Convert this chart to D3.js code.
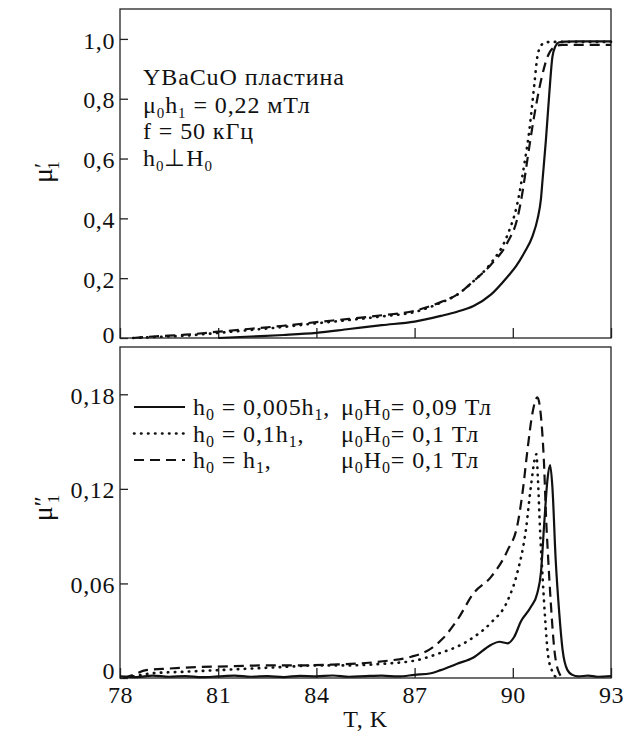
<!DOCTYPE html>
<html>
<head>
<meta charset="utf-8">
<script src="https://cdn.jsdelivr.net/npm/d3@7"></script>
<style>
  body { margin: 0; background: #fff; }
</style>
</head>
<body>
<div id="chart"></div>
<script>
// ticks
const xTicks = [78, 81, 84, 87, 90, 93];
const yTicksRe = [0, 0.2, 0.4, 0.6, 0.8, 1.0];
const yLabelsRe = ["0", "0,2", "0,4", "0,6", "0,8", "1,0"];
const yTicksIm = [0, 0.06, 0.12, 0.18];
const yLabelsIm = ["0", "0,06", "0,12", "0,18"];

// mu' (top panel)
const reSolidT = [81.0, 82, 83, 84, 85, 86, 87, 87.8, 88.3, 88.8, 89.33, 89.84, 90.1, 90.35, 90.6, 90.76, 90.86, 90.91, 91.01, 91.11, 91.21, 91.3, 91.4, 91.6, 92, 93];
const reSolidV = [0, 0.005, 0.01, 0.017, 0.03, 0.043, 0.055, 0.074, 0.088, 0.107, 0.145, 0.205, 0.24, 0.285, 0.34, 0.40, 0.465, 0.53, 0.66, 0.81, 0.94, 0.975, 0.988, 0.991, 0.992, 0.992];
const reDotT = [78.4, 79, 80, 81, 82, 83, 84, 85, 86, 87, 87.8, 88.3, 88.8, 89.33, 89.84, 90.14, 90.35, 90.5, 90.65, 90.75, 90.85, 90.96, 91.2, 93];
const reDotV = [0, 0.003, 0.008, 0.017, 0.027, 0.037, 0.049, 0.06, 0.072, 0.087, 0.118, 0.145, 0.19, 0.25, 0.345, 0.45, 0.58, 0.69, 0.84, 0.94, 0.975, 0.987, 0.99, 0.99];
const reDashT = [78.4, 79, 80, 81, 82, 83, 84, 85, 86, 87, 87.8, 88.3, 88.8, 89.33, 89.84, 90.14, 90.3, 90.45, 90.65, 90.86, 91.06, 91.26, 91.5, 93];
const reDashV = [0, 0.005, 0.011, 0.021, 0.031, 0.041, 0.053, 0.064, 0.076, 0.091, 0.12, 0.145, 0.19, 0.245, 0.32, 0.40, 0.49, 0.60, 0.74, 0.86, 0.94, 0.972, 0.98, 0.98];

// mu'' (bottom panel)
const imSolidT = [78, 78.5, 79, 79.5, 80, 80.5, 81, 81.5, 82, 82.5, 83, 83.5, 84, 84.5, 85, 85.5, 86, 86.5, 87, 87.5, 87.8, 88.3, 88.8, 89.33, 89.59, 89.84, 90.04, 90.25, 90.55, 90.75, 90.86, 90.96, 91.06, 91.14, 91.21, 91.31, 91.42, 91.52, 91.67, 91.82, 92, 92.3, 92.6, 93];
const imSolidV = [0.001, 0.0005, 0.0015, 0.0008, 0.0012, 0.0005, 0.001, 0.0015, 0.0008, 0.0012, 0.0006, 0.0014, 0.001, 0.0016, 0.0008, 0.0012, 0.0015, 0.001, 0.002, 0.003, 0.005, 0.009, 0.013, 0.021, 0.023, 0.022, 0.026, 0.036, 0.045, 0.054, 0.067, 0.098, 0.126, 0.135, 0.121, 0.075, 0.041, 0.018, 0.005, 0.002, 0.001, 0.0015, 0.0008, 0.0012];
const imDotT = [78.4, 79, 80, 81, 82, 83, 84, 85, 86, 87, 87.8, 88.31, 88.81, 89.33, 89.84, 90.14, 90.4, 90.55, 90.72, 90.77, 90.83, 90.91, 90.99, 91.08, 91.21, 91.35];
const imDotV = [0.001, 0.003, 0.004, 0.005, 0.006, 0.007, 0.008, 0.008, 0.009, 0.011, 0.016, 0.020, 0.026, 0.035, 0.049, 0.067, 0.094, 0.121, 0.142, 0.125, 0.095, 0.064, 0.037, 0.014, 0.004, 0];
const imDashT = [78.1, 78.4, 78.8, 79.5, 80.5, 81.5, 82.5, 83.5, 84.5, 85.5, 86.2, 86.9, 87.45, 87.86, 88.31, 88.81, 89.33, 89.84, 90.14, 90.3, 90.45, 90.6, 90.75, 90.85, 90.96, 91.01, 91.08, 91.16, 91.26, 91.42, 91.55];
const imDashV = [0, 0.002, 0.005, 0.006, 0.007, 0.0075, 0.008, 0.008, 0.0085, 0.0095, 0.011, 0.0135, 0.018, 0.025, 0.037, 0.054, 0.064, 0.081, 0.097, 0.118, 0.145, 0.168, 0.178, 0.168, 0.133, 0.105, 0.076, 0.048, 0.020, 0.003, 0];

// texts
const noteLines = [
  [["YBaCuO пластина", 0]],
  [["μ", 0], ["0", 1], ["h", 0], ["1", 1], [" = 0,22 мТл", 0]],
  [["f = 50 кГц", 0]],
  [["h", 0], ["0", 1], ["⊥H", 0], ["0", 1]]
];
const legendLeft = [
  [["h", 0], ["0", 1], [" = 0,005h", 0], ["1", 1], [",", 0]],
  [["h", 0], ["0", 1], [" = 0,1h", 0], ["1", 1], [",", 0]],
  [["h", 0], ["0", 1], [" = h", 0], ["1", 1], [",", 0]]
];
const legendRight = [
  [["μ", 0], ["0", 1], ["H", 0], ["0", 1], ["= 0,09 Тл", 0]],
  [["μ", 0], ["0", 1], ["H", 0], ["0", 1], ["= 0,1 Тл", 0]],
  [["μ", 0], ["0", 1], ["H", 0], ["0", 1], ["= 0,1 Тл", 0]]
];

const FONT = '"Liberation Serif"';
const setup = { width: 636, height: 740, left: 120, right: 611, fontSize: 24 };
const topPanel = { top: 9, bottom: 338 };
const botPanel = { top: 347, bottom: 678 };

const styles = {
  solid: { dash: null, width: 2.2, cap: "butt" },
  dot: { dash: "0.5,6.5", width: 2.6, cap: "round" },
  dash: { dash: "10,6", width: 2.2, cap: "butt" }
};

const svg = d3.select("#chart").append("svg")
  .attr("width", setup.width)
  .attr("height", setup.height);

const x = d3.scaleLinear().domain([78, 93]).range([setup.left, setup.right]);
const yRe = d3.scaleLinear().domain([0, 1.1]).range([topPanel.bottom, topPanel.top]);
const yIm = d3.scaleLinear().domain([0, 0.21]).range([botPanel.bottom, botPanel.top]);

const addText = (px, py, size, spacing) => svg.append("text")
  .attr("x", px).attr("y", py)
  .attr("font-size", size)
  .attr("fill", "#111")
  .attr("letter-spacing", spacing || 0)
  .style("font-family", FONT);

// text with subscripts
const richText = (sel, parts, subSize) => {
  parts.forEach((p, i) => {
    const t = sel.append("tspan").text(p[0]);
    const prevSub = i > 0 && parts[i - 1][1];
    if (p[1]) t.attr("font-size", subSize).attr("dy", prevSub ? 0 : 5);
    else if (prevSub) t.attr("dy", -5);
  });
};

const drawPanel = (panel, y, ticks, labels, showX, labelDy) => {
  const g = svg.append("g");

  g.append("rect")
    .attr("x", setup.left).attr("y", panel.top)
    .attr("width", setup.right - setup.left)
    .attr("height", panel.bottom - panel.top)
    .attr("fill", "none").attr("stroke", "#222").attr("stroke-width", 1.3);

  const yAxis = d3.axisLeft(y)
    .tickValues(ticks)
    .tickFormat((d, i) => labels[i])
    .tickSize(-8)
    .tickPadding(5);

  g.append("g")
    .attr("transform", `translate(${setup.left},0)`)
    .call(yAxis)
    .attr("font-family", null)
    .call(a => a.select(".domain").remove())
    .call(a => a.selectAll("line").attr("stroke", "#222").attr("stroke-width", 1.3))
    .call(a => a.selectAll("text")
      .attr("dy", (d, i) => i === 0 ? labelDy : "0.38em")
      .attr("fill", "#111")
      .attr("font-size", setup.fontSize)
      .attr("letter-spacing", 0.6)
      .style("font-family", FONT));

  const xAxis = d3.axisBottom(x)
    .tickValues(xTicks)
    .tickSize(-10)
    .tickPadding(8)
    .tickFormat(showX ? d => d : () => "");

  g.append("g")
    .attr("transform", `translate(0,${panel.bottom})`)
    .call(xAxis)
    .attr("font-family", null)
    .call(a => a.select(".domain").remove())
    .call(a => a.selectAll("line").attr("stroke", "#222").attr("stroke-width", 1.3))
    .call(a => a.selectAll("text")
      .attr("fill", "#111")
      .attr("font-size", setup.fontSize)
      .attr("letter-spacing", 0.6)
      .style("font-family", FONT));

  return g;
};

const drawCurve = (g, y, ts, vs, st) => {
  const ln = d3.line()
    .x(d => x(d[0]))
    .y(d => y(d[1]))
    .curve(d3.curveMonotoneX);
  g.append("path")
    .datum(d3.zip(ts, vs))
    .attr("fill", "none")
    .attr("stroke", "#111")
    .attr("stroke-width", st.width)
    .attr("stroke-linecap", st.cap)
    .attr("stroke-linejoin", "round")
    .attr("stroke-dasharray", st.dash)
    .attr("d", ln);
};

// top panel
const gTop = drawPanel(topPanel, yRe, yTicksRe, yLabelsRe, false, "0.2em");
drawCurve(gTop, yRe, reDotT, reDotV, styles.dot);
drawCurve(gTop, yRe, reDashT, reDashV, styles.dash);
drawCurve(gTop, yRe, reSolidT, reSolidV, styles.solid);

// bottom panel
const gBot = drawPanel(botPanel, yIm, yTicksIm, yLabelsIm, true, "0.02em");
drawCurve(gBot, yIm, imDotT, imDotV, styles.dot);
drawCurve(gBot, yIm, imDashT, imDashV, styles.dash);
drawCurve(gBot, yIm, imSolidT, imSolidV, styles.solid);

// annotation in top panel
const noteY = [85, 113, 139, 166];
noteLines.forEach((parts, i) => {
  richText(addText(143, noteY[i], setup.fontSize, 0.9), parts, 15);
});

// legend in bottom panel
const legY = [407, 433.5, 460];
const legStyles = [styles.solid, styles.dot, styles.dash];
legY.forEach((ly, i) => {
  const st = legStyles[i];
  svg.append("line")
    .attr("x1", 134).attr("x2", 185)
    .attr("y1", ly).attr("y2", ly)
    .attr("stroke", "#111")
    .attr("stroke-width", st.width)
    .attr("stroke-linecap", st.cap)
    .attr("stroke-dasharray", st.dash);
  richText(addText(193, ly + 8, setup.fontSize, 0.9), legendLeft[i], 16);
  richText(addText(341, ly + 8, setup.fontSize, 0.9), legendRight[i], 16);
});

// axis titles
const yTitle = (cy, prime) => {
  const t = addText(0, 0, 28)
    .attr("transform", `translate(52,${cy}) rotate(-90)`)
    .attr("text-anchor", "middle");
  t.append("tspan").text("μ");
  t.append("tspan").text(prime).attr("dy", -2).attr("font-size", 24);
  t.append("tspan").text("1").attr("font-size", 17).attr("dx", -7).attr("dy", 9);
};
yTitle(172, "′");
yTitle(508, "″");

addText((setup.left + setup.right) / 2, 727, setup.fontSize, 0.6)
  .attr("text-anchor", "middle")
  .text("T, K");
</script>
</body>
</html>
